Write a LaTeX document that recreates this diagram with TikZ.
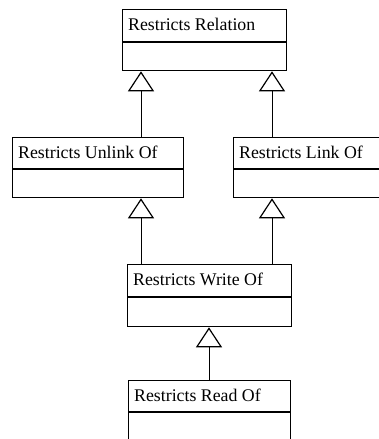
\documentclass[tikz,border=0pt]{standalone}
\usepackage{fontspec}
\setmainfont{Liberation Serif}
\usetikzlibrary{arrows.meta,calc}

% class box: outline, title compartment and empty attribute compartment
\tikzset{
  classbox/.style={draw, line width=1.3pt, rectangle, inner sep=0pt, anchor=north west, fill=white},
  classname/.style={anchor=base west, inner sep=0pt, font=\fontsize{17.8}{20}\selectfont},
  divider/.style={line width=1.2pt},
  inherit/.style={line width=0.9pt, -{Triangle[open, length=20pt, width=26pt, line width=1.2pt]}}
}

% draws a class box: #1 name, #2 x, #3 y, #4 width, #5 height, #6 title height, #7 text
\newcommand{\umlclass}[7]{%
  \node[classbox, minimum width=#4pt, minimum height=#5pt] (#1) at (#2,#3) {};
  \node[classname] (#1-title) at ($(#1.north west)+(6,21.5)$) {#7};
  \draw[divider] ($(#1.north west)+(0,#6)$) -- ($(#1.north east)+(0,#6)$);
}

\begin{document}
\begin{tikzpicture}[x=1pt,y=-1pt]
  \useasboundingbox (0,0) rectangle (379,439);
  \clip (0,0) rectangle (379,439);

  \umlclass{rel}{122}{9}{164}{61}{33}{Restricts Relation}
  \umlclass{unlink}{12}{137}{171}{60}{32}{Restricts Unlink Of}
  \umlclass{link}{233}{137}{170}{60}{32}{Restricts Link Of}
  \umlclass{write}{127}{264}{164}{62}{33}{Restricts Write Of}
  \umlclass{read}{128}{380}{162}{62}{32}{Restricts Read Of}

  % vertical positions of the generalization lines
  \coordinate (xl) at (141,0);
  \coordinate (xr) at (272,0);
  \coordinate (xm) at (209,0);

  \draw[inherit] (unlink.north -| xl) -- (rel.south -| xl);
  \draw[inherit] (link.north -| xr) -- (rel.south -| xr);
  \draw[inherit] (write.north -| xl) -- (unlink.south -| xl);
  \draw[inherit] (write.north -| xr) -- (link.south -| xr);
  \draw[inherit] (read.north -| xm) -- (write.south -| xm);
\end{tikzpicture}
\end{document}
